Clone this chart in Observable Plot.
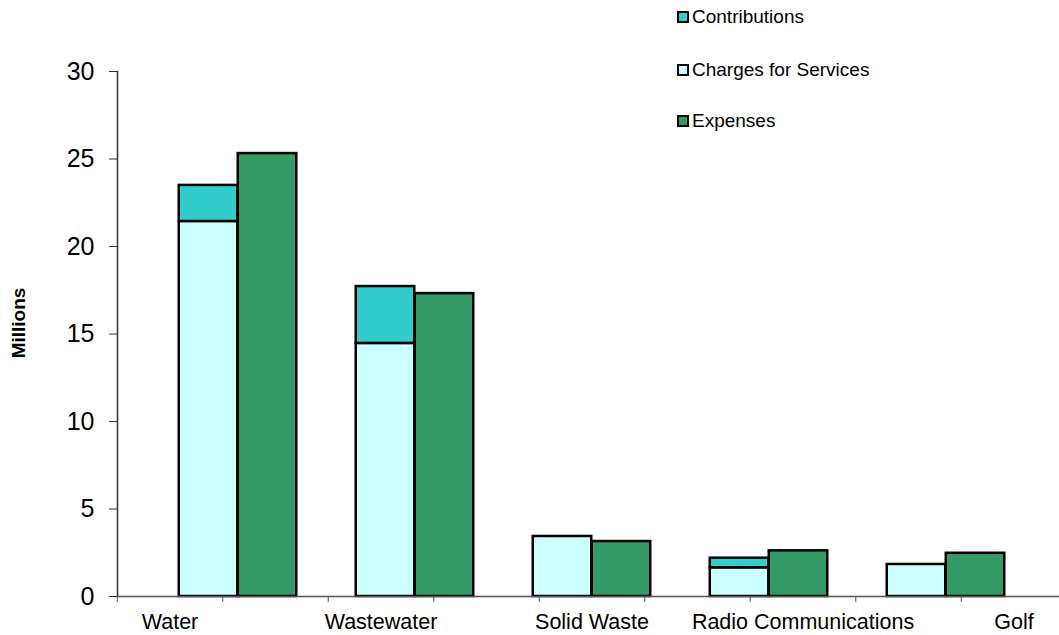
<!DOCTYPE html>
<html>
<head>
<meta charset="utf-8">
<script src="https://cdn.jsdelivr.net/npm/d3@7"></script>
<script src="https://cdn.jsdelivr.net/npm/@observablehq/plot@0.6"></script>
<style>
  html, body { margin: 0; padding: 0; background: #fff; }
  #wrap { position: relative; width: 1059px; height: 635px; font-family: "Liberation Sans", Arial, sans-serif; }
  #wrap svg { position: absolute; left: 0; top: 0; }
  .legend { position: absolute; left: 677px; top: 0; font-size: 19px; color: #000; }
  .legend .item { position: absolute; left: 0; display: flex; align-items: center; white-space: nowrap; }
  .legend .sw { width: 8px; height: 8px; border: 2px solid #000; margin-right: 3px; }
</style>
</head>
<body>
<div id="wrap"></div>
<script>
const categories = ["Water", "Wastewater", "Solid Waste", "Radio Communications", "Golf"];
const charges = [21.43, 14.46, 3.43, 1.64, 1.83];
const contributions = [2.06, 3.25, 0, 0.55, 0];
const expenses = [25.31, 17.31, 3.14, 2.61, 2.47];
const seriesNames = ["Contributions", "Charges for Services", "Expenses"];
const seriesColors = ["#33CCCC", "#CCFFFF", "#339966"];
const yTicks = [0, 5, 10, 15, 20, 25, 30];

const revenue = categories.flatMap((c, i) => [
  {category: c, series: "Charges for Services", value: charges[i]},
  {category: c, series: "Contributions", value: contributions[i]}
]);
const expenseRows = categories.map((c, i) => ({category: c, series: "Expenses", value: expenses[i]}));

const W = 1059, H = 635;
const font = "'Liberation Sans', Arial, sans-serif";

const main = Plot.plot({
  width: W, height: H,
  marginLeft: 117, marginRight: 0, marginTop: 71, marginBottom: 39,
  style: {fontFamily: font, color: "#000", background: "white"},
  x: {type: "band", domain: categories, range: [147.25, 1034.75], padding: 0, axis: null},
  y: {domain: [0, 30], axis: null},
  color: {domain: seriesNames, range: seriesColors},
  marks: [
    Plot.barY(revenue, {
      x: "category", y: "value", fill: "series",
      order: ["Charges for Services", "Contributions"],
      filter: d => d.value > 0,
      stroke: "#000", strokeWidth: 2.5,
      insetLeft: 59.25, insetRight: 59.25, dx: -29.5
    }),
    Plot.barY(expenseRows, {
      x: "category", y: "value", fill: "series",
      stroke: "#000", strokeWidth: 2.5,
      insetLeft: 59.25, insetRight: 59.25, dx: 29.5
    }),
    Plot.axisY({ticks: yTicks, tickSize: 8, tickPadding: 15, fontSize: 25, label: null, stroke: "#333"}),
    Plot.frame({anchor: "left", stroke: "#333", strokeWidth: 1.5}),
    Plot.ruleY([0], {stroke: "#555", strokeWidth: 1.5}),
    Plot.text(["Millions"], {frameAnchor: "left", textAnchor: "middle", rotate: -90, dx: -99, dy: -11, fontWeight: "bold", fontSize: 19})
  ]
});

const axisPlot = Plot.plot({
  width: W, height: H,
  marginLeft: 0, marginRight: 0, marginTop: 71, marginBottom: 39,
  style: {fontFamily: font, color: "#000", background: "transparent"},
  x: {type: "band", domain: categories, range: [64.25, 1119.25], padding: 0, axis: null},
  marks: [
    Plot.axisX({tickSize: 0, tickPadding: 17, fontSize: 21.5, label: null}),
    Plot.axisX({tickSize: 6, tickFormat: () => "", dx: -52.75, label: null, stroke: "#555"}),
    Plot.axisX({tickSize: 6, tickFormat: () => "", dx: 52.75, label: null, stroke: "#555"})
  ]
});
axisPlot.style.pointerEvents = "none";

const wrap = document.getElementById("wrap");
wrap.appendChild(main);
wrap.appendChild(axisPlot);

const legend = document.createElement("div");
legend.className = "legend";
const legendTops = [17, 70, 121];
seriesNames.forEach((name, i) => {
  const item = document.createElement("div");
  item.className = "item";
  item.style.top = (legendTops[i] - 11) + "px";
  const sw = document.createElement("span");
  sw.className = "sw";
  sw.style.background = seriesColors[i];
  const t = document.createElement("span");
  t.textContent = name;
  item.appendChild(sw);
  item.appendChild(t);
  legend.appendChild(item);
});
wrap.appendChild(legend);
</script>
</body>
</html>
